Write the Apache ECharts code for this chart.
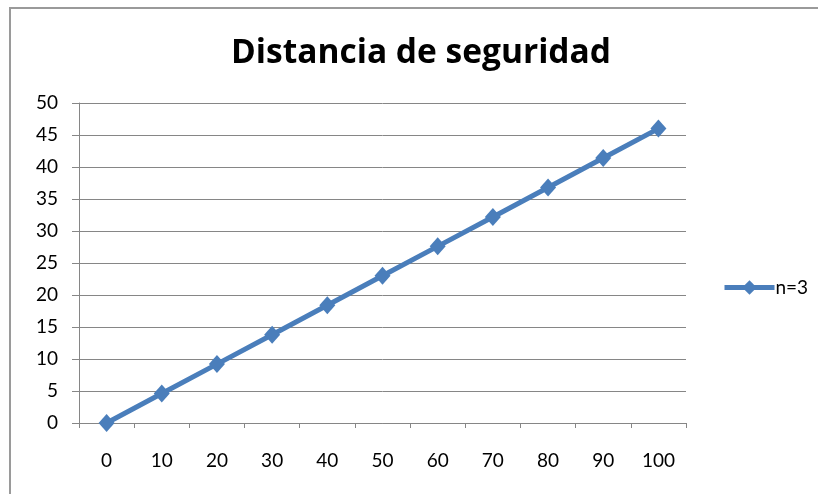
<!DOCTYPE html>
<html>
<head>
<meta charset="utf-8">
<script src="https://cdn.jsdelivr.net/npm/echarts@6/dist/echarts.min.js"></script>
<style>
  html, body { margin: 0; padding: 0; background: #fff; }
  #frame { position: absolute; left: 9px; top: 7px; width: 900px; height: 600px; border: 2px solid #9a9a9a; box-sizing: border-box; }
  #chart { position: absolute; left: 0; top: 0; width: 818px; height: 494px; }
</style>
</head>
<body>
<div id="frame"></div>
<div id="chart"></div>
<script>
// Safety distance for n = 3
const categories = ['0', '10', '20', '30', '40', '50', '60', '70', '80', '90', '100'];
const distance = [0, 4.6, 9.2, 13.8, 18.4, 23.0, 27.6, 32.2, 36.8, 41.4, 46.0];
const seriesName = 'n=3';
const titleText = 'Distancia de seguridad';

const font = 'Lato, "Open Sans", sans-serif';
const titleFont = '"Open Sans", Lato, sans-serif';
const chart = echarts.init(document.getElementById('chart'), null, { renderer: 'canvas' });
chart.setOption({
  animation: false,
  backgroundColor: 'transparent',
  title: {
    text: titleText,
    left: 416,
    textAlign: 'center',
    top: 31,
    textStyle: { fontFamily: titleFont, fontWeight: 'bold', fontSize: 33.5, color: '#000' }
  },
  grid: { left: 79, right: 132, top: 103, bottom: 71, containLabel: false },
  legend: {
    data: [seriesName],
    left: 717,
    top: 273,
    itemWidth: 50,
    itemHeight: 18,
    itemGap: 4,
    lineStyle: { width: 5 },
    textStyle: { fontFamily: font, fontSize: 19, color: '#000', padding: [0, 0, 0, -4] }
  },
  xAxis: {
    type: 'category',
    data: categories,
    boundaryGap: true,
    axisLine: { lineStyle: { color: '#868686', width: 1 } },
    axisTick: { show: true, length: 5, inside: false, lineStyle: { color: '#868686' } },
    axisLabel: { fontFamily: font, fontSize: 19, color: '#000', margin: 28 },
    splitLine: { show: false }
  },
  yAxis: {
    type: 'value',
    min: 0,
    max: 50,
    interval: 5,
    axisLine: { show: true, lineStyle: { color: '#868686', width: 1 } },
    axisTick: { show: true, length: 7, lineStyle: { color: '#868686' } },
    axisLabel: { fontFamily: font, fontSize: 19, color: '#000', margin: 21 },
    splitLine: { show: true, lineStyle: { color: '#868686', width: 1 } }
  },
  series: [{
    name: seriesName,
    type: 'line',
    data: distance,
    symbol: 'diamond',
    symbolSize: [16, 18],
    color: '#4a7ebb',
    lineStyle: { width: 5, color: '#4a7ebb' },
    itemStyle: { color: '#4a7ebb' }
  }]
});
</script>
</body>
</html>
